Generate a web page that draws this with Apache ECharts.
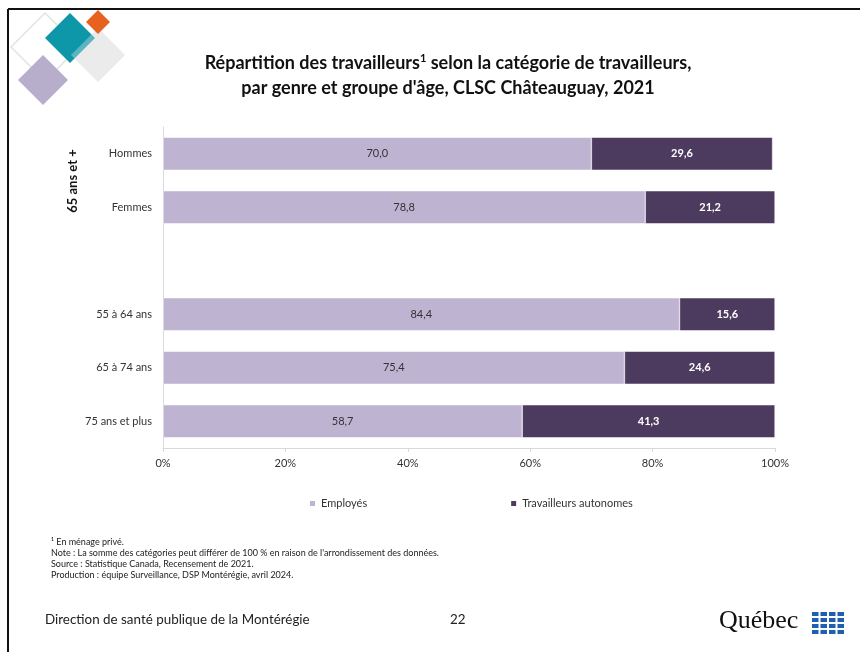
<!DOCTYPE html>
<html><head><meta charset="utf-8">
<script src="https://cdn.jsdelivr.net/npm/echarts@6/dist/echarts.min.js"></script>
<style>html,body{margin:0;padding:0;background:#fff}#c{width:860px;height:652px}</style>
</head><body><div id="c"></div>
<script>
var categories = ['Hommes', 'Femmes', '', '55 à 64 ans', '65 à 74 ans', '75 ans et plus'];
var employes = [70.0, 78.8, null, 84.4, 75.4, 58.7];
var autonomes = [29.6, 21.2, null, 15.6, 24.6, 41.3];
var seriesNames = ['Employés', 'Travailleurs autonomes'];
var xTicks = [0, 20, 40, 60, 80, 100];

var FONT = 'Lato';
function diamond(cx, cy, half, style, z) {
  var s = half * Math.SQRT2;
  return {type: 'rect', x: cx, y: cy, rotation: Math.PI / 4, originX: 0, originY: 0,
    shape: {x: -s / 2, y: -s / 2, width: s, height: s}, style: style, z: z || 10, silent: true};
}
function flag(x, y) {
  return [
    {type: 'rect', shape: {x: x, y: y, width: 15, height: 10}, style: {fill: '#1d5fb0'}},
    {type: 'rect', shape: {x: x + 6.5, y: y, width: 2, height: 10}, style: {fill: '#fff'}},
    {type: 'rect', shape: {x: x, y: y + 4, width: 15, height: 2}, style: {fill: '#fff'}}
  ];
}
var chart = echarts.init(document.getElementById('c'));
var titleRich = {
  t: {fontFamily: FONT, fontSize: 18, fontWeight: 'bold', fill: '#111'},
  s: {fontFamily: FONT, fontSize: 11, fontWeight: 'bold', fill: '#111', verticalAlign: 'top', padding: [0, 0, 9, 0]}
};
var graphics = [
  {type: 'line', shape: {x1: 8, y1: 9, x2: 860, y2: 9}, style: {stroke: '#111', lineWidth: 2}},
  {type: 'line', shape: {x1: 8, y1: 9, x2: 8, y2: 652}, style: {stroke: '#111', lineWidth: 2}},
  diamond(45, 47, 34, {fill: 'none', stroke: '#dfe6dc', lineWidth: 1.5}),
  diamond(98, 55, 27, {fill: '#ebebeb'}),
  diamond(70, 38, 25, {fill: '#0e97a8'}),
  diamond(98, 55, 27, {fill: 'rgba(235,235,235,0.35)'}),
  diamond(98, 22, 12, {fill: '#e8621f'}),
  diamond(43, 80, 25, {fill: '#b7aecc'}),
  {type: 'text', x: 448, y: 63, style: {rich: titleRich, align: 'center', verticalAlign: 'middle',
    text: '{t|Répartition des travailleurs}{s|1}{t| selon la catégorie de travailleurs,}'}},
  {type: 'text', x: 448, y: 88, style: {rich: titleRich, align: 'center', verticalAlign: 'middle',
    text: '{t|par genre et groupe d\'âge, CLSC Châteauguay, 2021}'}},
  {type: 'text', x: 73, y: 181, rotation: Math.PI / 2, style: {
    text: '65 ans et +', fontFamily: FONT, fontSize: 13, fontWeight: 'bold', fill: '#111', align: 'center', verticalAlign: 'middle'}},
  {type: 'text', x: 51, y: 536, style: {
    text: '¹ En ménage privé.\nNote : La somme des catégories peut différer de 100 % en raison de l\'arrondissement des données.\nSource : Statistique Canada, Recensement de 2021.\nProduction : équipe Surveillance, DSP Montérégie, avril 2024.',
    fontFamily: FONT, fontSize: 9, lineHeight: 11.3, fill: '#222'}},
  {type: 'text', x: 45, y: 613, style: {text: 'Direction de santé publique de la Montérégie', fontFamily: FONT, fontSize: 13.4, fill: '#222'}},
  {type: 'text', x: 450, y: 613, style: {text: '22', fontFamily: FONT, fontSize: 13.4, fill: '#222'}},
  {type: 'text', x: 719, y: 608, style: {text: 'Québec', fontFamily: 'Liberation Serif', fontSize: 26, fill: '#111'}}
];
graphics = graphics.concat(flag(812, 612), flag(829, 612), flag(812, 624), flag(829, 624));

chart.setOption({
  animation: false,
  textStyle: {fontFamily: FONT},
  graphic: graphics,
  legend: {
    bottom: 138, left: 303, itemGap: 142, itemWidth: 7, itemHeight: 7, icon: 'rect',
    textStyle: {fontFamily: FONT, fontSize: 11, color: '#333'},
    data: seriesNames
  },
  grid: {left: 163, right: 85, top: 127, height: 321},
  xAxis: {
    type: 'value', min: 0, max: 100, interval: 20,
    axisLine: {show: true, lineStyle: {color: '#d9d9d9'}},
    axisTick: {show: true, length: 4, lineStyle: {color: '#d9d9d9'}},
    splitLine: {show: false},
    axisLabel: {formatter: function (v) { return xTicks.indexOf(v) >= 0 ? v + '%' : ''; }, color: '#333', fontSize: 11, margin: 10, fontFamily: FONT}
  },
  yAxis: {
    type: 'category', data: categories, inverse: true,
    axisLine: {show: true, lineStyle: {color: '#d9d9d9'}},
    axisTick: {show: false},
    axisLabel: {color: '#333', fontSize: 11, margin: 11, fontFamily: FONT}
  },
  series: [
    {name: seriesNames[0], type: 'bar', stack: 'a', data: employes, barWidth: 33,
      itemStyle: {color: '#bfb3d2', borderColor: '#ffffff', borderWidth: 0.5},
      label: {show: true, position: 'inside', color: '#333', fontSize: 11, fontFamily: FONT,
        formatter: function (p) { return p.value == null ? '' : p.value.toFixed(1).replace('.', ','); }}},
    {name: seriesNames[1], type: 'bar', stack: 'a', data: autonomes, barWidth: 33,
      itemStyle: {color: '#4d3b5f', borderColor: '#ffffff', borderWidth: 0.5},
      label: {show: true, position: 'inside', color: '#fff', fontSize: 11, fontWeight: 'bold', fontFamily: FONT,
        formatter: function (p) { return p.value == null ? '' : p.value.toFixed(1).replace('.', ','); }}}
  ]
});
</script></body></html>
